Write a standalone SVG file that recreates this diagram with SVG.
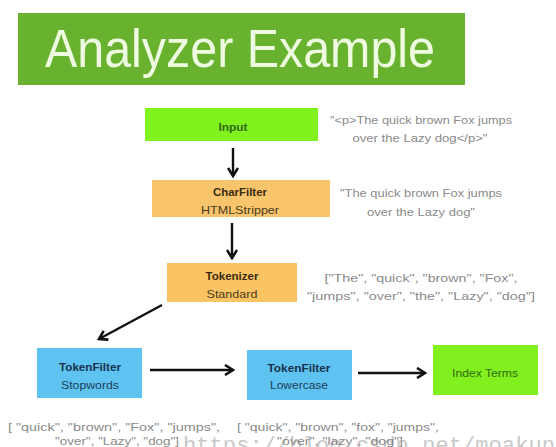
<svg xmlns="http://www.w3.org/2000/svg" width="556" height="447" viewBox="0 0 556 447">
<defs>
<marker id="ah" viewBox="0 0 12 12" refX="10" refY="6" markerWidth="12" markerHeight="12" markerUnits="userSpaceOnUse" orient="auto">
<path d="M2,1 L10,6 L2,11" fill="none" stroke="#111" stroke-width="2.6" stroke-linejoin="miter"/>
</marker>
<style>
.lbl{font-family:"Liberation Sans",Arial,sans-serif;font-size:11px;text-anchor:middle}
.b{font-weight:bold}
.gray{font-family:"Liberation Sans",Arial,sans-serif;font-size:11px;fill:#8a8a8a;text-anchor:middle}
.conn{stroke:#111;stroke-width:2.4;fill:none;marker-end:url(#ah)}
</style>
</defs>
<rect width="556" height="447" fill="#ffffff"/>
<g id="title">
<rect x="18" y="13" width="447" height="72" fill="#69b22f"/>
<text x="240" y="67" font-family="'Liberation Sans',Arial,sans-serif" font-size="54" fill="#eefbe0" text-anchor="middle" textLength="390" lengthAdjust="spacingAndGlyphs">Analyzer Example</text>
</g>
<g id="connectors">
<line class="conn" x1="233" y1="148" x2="233" y2="176"/>
<line class="conn" x1="232" y1="223" x2="232" y2="258"/>
<line class="conn" x1="162" y1="305" x2="99" y2="339"/>
<line class="conn" x1="150" y1="370" x2="233" y2="370"/>
<line class="conn" x1="358" y1="373" x2="425" y2="373"/>
</g>
<g id="input">
<rect x="145" y="108" width="173" height="33" fill="#80f21e"/>
<text class="lbl b" x="233" y="131" fill="#2f6a10" textLength="29" lengthAdjust="spacingAndGlyphs">Input</text>
<text class="gray" x="421" y="124" textLength="182" lengthAdjust="spacingAndGlyphs">"&lt;p&gt;The quick brown Fox jumps</text>
<text class="gray" x="420" y="142" textLength="135" lengthAdjust="spacingAndGlyphs">over the Lazy dog&lt;/p&gt;"</text>
</g>
<g id="charfilter">
<rect x="152" y="180" width="178" height="37" fill="#f9c56c"/>
<text class="lbl b" x="240" y="196" fill="#3b2a12" textLength="54" lengthAdjust="spacingAndGlyphs">CharFilter</text>
<text class="lbl" x="240" y="214" fill="#4a3a1e" textLength="78" lengthAdjust="spacingAndGlyphs">HTMLStripper</text>
<text class="gray" x="421" y="197" textLength="162" lengthAdjust="spacingAndGlyphs">"The quick brown Fox jumps</text>
<text class="gray" x="421" y="216" textLength="108" lengthAdjust="spacingAndGlyphs">over the Lazy dog"</text>
</g>
<g id="tokenizer">
<rect x="167" y="263" width="130" height="39" fill="#fbc463"/>
<text class="lbl b" x="232" y="280" fill="#3b2a12" textLength="53" lengthAdjust="spacingAndGlyphs">Tokenizer</text>
<text class="lbl" x="232" y="298" fill="#4a3a1e" textLength="51" lengthAdjust="spacingAndGlyphs">Standard</text>
<text class="gray" x="421" y="282" textLength="193" lengthAdjust="spacingAndGlyphs">["The", "quick", "brown", "Fox",</text>
<text class="gray" x="421" y="300" textLength="228" lengthAdjust="spacingAndGlyphs">"jumps", "over", "the", "Lazy", "dog"]</text>
</g>
<g id="watermark">
<text x="183" y="452" font-family="'Liberation Mono',monospace" font-size="22" fill="#c9c9c9" textLength="372" lengthAdjust="spacingAndGlyphs">https://blog.csdn.net/moakun</text>
</g>
<g id="stopwords">
<rect x="37" y="348" width="105" height="50" fill="#5ec3f0"/>
<text class="lbl b" x="90" y="371" fill="#17324d" textLength="62" lengthAdjust="spacingAndGlyphs">TokenFilter</text>
<text class="lbl" x="90" y="389" fill="#1f3d58" textLength="58" lengthAdjust="spacingAndGlyphs">Stopwords</text>
<text class="gray" x="114" y="431" textLength="212" lengthAdjust="spacingAndGlyphs">[ "quick", "brown", "Fox", "jumps",</text>
<text class="gray" x="117" y="445" textLength="124" lengthAdjust="spacingAndGlyphs">"over", "Lazy", "dog"]</text>
</g>
<g id="lowercase">
<rect x="247" y="350" width="105" height="50" fill="#5ec3f0"/>
<text class="lbl b" x="299" y="372" fill="#17324d" textLength="63" lengthAdjust="spacingAndGlyphs">TokenFilter</text>
<text class="lbl" x="299" y="389" fill="#1f3d58" textLength="58" lengthAdjust="spacingAndGlyphs">Lowercase</text>
<text class="gray" x="338" y="431" textLength="202" lengthAdjust="spacingAndGlyphs">[ "quick", "brown", "fox", "jumps",</text>
<text class="gray" x="340" y="445" textLength="126" lengthAdjust="spacingAndGlyphs">"over", "lazy", "dog"]</text>
</g>
<g id="indexterms">
<rect x="433" y="345" width="105" height="50" fill="#82f01e"/>
<text class="lbl" x="485" y="377" fill="#2f6a10" textLength="66" lengthAdjust="spacingAndGlyphs">Index Terms</text>
</g>
</svg>
